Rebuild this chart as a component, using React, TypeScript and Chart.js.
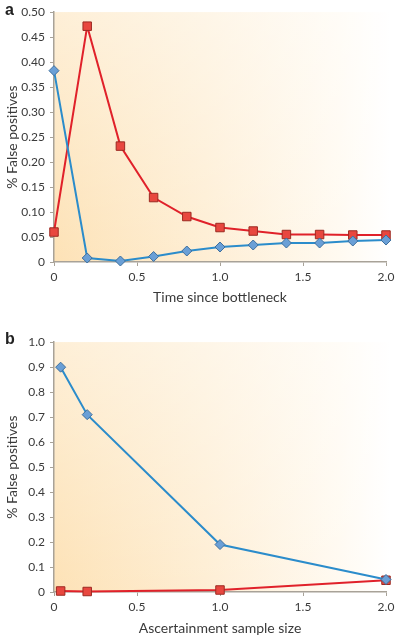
import React, { useEffect, useRef } from 'react';
import { Chart, registerables } from 'chart.js';

Chart.register(...registerables);

// Panel a: time since bottleneck
const timeX = [0, 0.2, 0.4, 0.6, 0.8, 1.0, 1.2, 1.4, 1.6, 1.8, 2.0];
const timeBlue = [0.383, 0.008, 0.002, 0.011, 0.022, 0.03, 0.034, 0.038, 0.038, 0.042, 0.044];
const timeRed = [0.06, 0.472, 0.232, 0.129, 0.091, 0.069, 0.062, 0.055, 0.055, 0.054, 0.054];

// Panel b: ascertainment sample size
const sampleX = [0.04, 0.2, 1.0, 2.0];
const sampleBlue = [0.9, 0.71, 0.19, 0.05];
const sampleRed = [0.004, 0.002, 0.008, 0.047];

const xTicks = [0, 0.5, 1, 1.5, 2];
const xTickLabels = ['0', '0.5', '1.0', '1.5', '2.0'];
const yTicksA = [0, 0.05, 0.1, 0.15, 0.2, 0.25, 0.3, 0.35, 0.4, 0.45, 0.5];
const yTickLabelsA = ['0', '0.05', '0.10', '0.15', '0.20', '0.25', '0.30', '0.35', '0.40', '0.45', '0.50'];
const yTicksB = [0, 0.1, 0.2, 0.3, 0.4, 0.5, 0.6, 0.7, 0.8, 0.9, 1.0];
const yTickLabelsB = ['0', '0.1', '0.2', '0.3', '0.4', '0.5', '0.6', '0.7', '0.8', '0.9', '1.0'];

const yTitle = '% False positives';
const xTitleA = 'Time since bottleneck';
const xTitleB = 'Ascertainment sample size';

const BLUE_LINE = '#2b8ccb';
const BLUE_FILL = '#6a9fd6';
const BLUE_EDGE = '#3d6f9e';
const RED_LINE = '#e0212a';
const RED_FILL = '#e8473f';
const RED_EDGE = '#9c2a22';
const AXIS = '#a8a298';
const TEXT = '#3a3a3a';
const FONT = 'Lato, "Open Sans", sans-serif';

const bgPlugin = {
  id: 'gradBg',
  beforeDraw(chart: any) {
    const { ctx, chartArea } = chart;
    if (!chartArea) return;
    const { left, right, top, bottom } = chartArea;
    ctx.save();
    const h = ctx.createLinearGradient(left, 0, right + 4, 0);
    h.addColorStop(0, '#fde2b6');
    h.addColorStop(0.45, '#feeed4');
    h.addColorStop(0.85, '#fffaf1');
    h.addColorStop(1, '#ffffff');
    ctx.fillStyle = h;
    ctx.fillRect(left, top, right + 4 - left, bottom - top);
    const v = ctx.createLinearGradient(0, top, 0, bottom);
    v.addColorStop(0, 'rgba(255,255,255,0.45)');
    v.addColorStop(1, 'rgba(255,255,255,0)');
    ctx.fillStyle = v;
    ctx.fillRect(left, top, right + 4 - left, bottom - top);
    ctx.restore();
  },
};

type PanelProps = {
  top: number;
  height: number;
  xs: number[];
  blue: number[];
  red: number[];
  yTicks: number[];
  yLabels: string[];
  xTitle: string;
  xAxisHeight: number;
  xTitlePad: number;
};

function Panel(p: PanelProps) {
  const ref = useRef<HTMLCanvasElement>(null);
  useEffect(() => {
    if (!ref.current) return;
    const chart = new Chart(ref.current, {
      type: 'line',
      data: {
        datasets: [
          {
            data: p.xs.map((x, i) => ({ x, y: p.blue[i] })),
            borderColor: BLUE_LINE,
            borderWidth: 2,
            pointStyle: 'rectRot',
            pointRadius: 5,
            pointBackgroundColor: BLUE_FILL,
            pointBorderColor: BLUE_EDGE,
            pointBorderWidth: 1,
            tension: 0,
            clip: false,
          } as any,
          {
            data: p.xs.map((x, i) => ({ x, y: p.red[i] })),
            borderColor: RED_LINE,
            borderWidth: 2,
            pointStyle: 'rect',
            pointRadius: 6,
            pointBackgroundColor: RED_FILL,
            pointBorderColor: RED_EDGE,
            pointBorderWidth: 1,
            tension: 0,
            clip: false,
          } as any,
        ],
      },
      options: {
        responsive: false,
        animation: false,
        layout: { padding: { top: 10, right: 14, left: 0, bottom: 0 } },
        plugins: { legend: { display: false }, tooltip: { enabled: false } },
        scales: {
          x: {
            type: 'linear',
            min: 0,
            max: 2,
            afterBuildTicks: (s: any) => {
              s.ticks = xTicks.map((v) => ({ value: v }));
            },
            afterFit: (s: any) => {
              s.height = p.xAxisHeight;
            },
            ticks: {
              autoSkip: false,
              maxRotation: 0,
              padding: 4,
              color: TEXT,
              font: { family: FONT, size: 12 },
              callback: (_v: any, i: number) => xTickLabels[i],
            },
            grid: { drawOnChartArea: false, drawTicks: true, tickLength: 4, color: AXIS, lineWidth: 1 },
            border: { display: true, color: AXIS, width: 1.5 },
            title: {
              display: true,
              text: p.xTitle,
              color: TEXT,
              font: { family: FONT, size: 14 },
              padding: { top: 0, bottom: p.xTitlePad },
            },
          },
          y: {
            type: 'linear',
            min: 0,
            max: p.yTicks[p.yTicks.length - 1],
            afterBuildTicks: (s: any) => {
              s.ticks = p.yTicks.map((v) => ({ value: v }));
            },
            afterFit: (s: any) => {
              s.width = 54;
            },
            ticks: {
              autoSkip: false,
              padding: 5,
              color: TEXT,
              font: { family: FONT, size: 12 },
              callback: (_v: any, i: number) => p.yLabels[i],
            },
            grid: { drawOnChartArea: false, drawTicks: true, tickLength: 4, color: AXIS, lineWidth: 1 },
            border: { display: true, color: AXIS, width: 1.5 },
            title: {
              display: true,
              text: yTitle,
              color: TEXT,
              font: { family: FONT, size: 14 },
              padding: { top: 4, bottom: 0 },
            },
          },
        },
      } as any,
      plugins: [bgPlugin],
    });
    return () => chart.destroy();
  }, []);
  return (
    <canvas
      ref={ref}
      width={400}
      height={p.height}
      style={{ position: 'absolute', left: 0, top: p.top, width: 400, height: p.height }}
    />
  );
}

export default function App() {
  const lbl: React.CSSProperties = {
    position: 'absolute',
    left: 5,
    fontFamily: '"Liberation Sans", Arial, sans-serif',
    fontWeight: 'bold',
    fontSize: 16,
    lineHeight: '16px',
    color: '#222',
  };
  return (
    <div style={{ position: 'absolute', left: 0, top: 0, width: 400, height: 643, background: '#fff', overflow: 'hidden' }}>
      <Panel top={0} height={310} xs={timeX} blue={timeBlue} red={timeRed} yTicks={yTicksA} yLabels={yTickLabelsA} xTitle={xTitleA} xAxisHeight={48} xTitlePad={4} />
      <Panel top={330} height={313} xs={sampleX} blue={sampleBlue} red={sampleRed} yTicks={yTicksB} yLabels={yTickLabelsB} xTitle={xTitleB} xAxisHeight={51} xTitlePad={6} />
      <div style={{ ...lbl, top: 2 }}>a</div>
      <div style={{ ...lbl, top: 331 }}>b</div>
    </div>
  );
}
